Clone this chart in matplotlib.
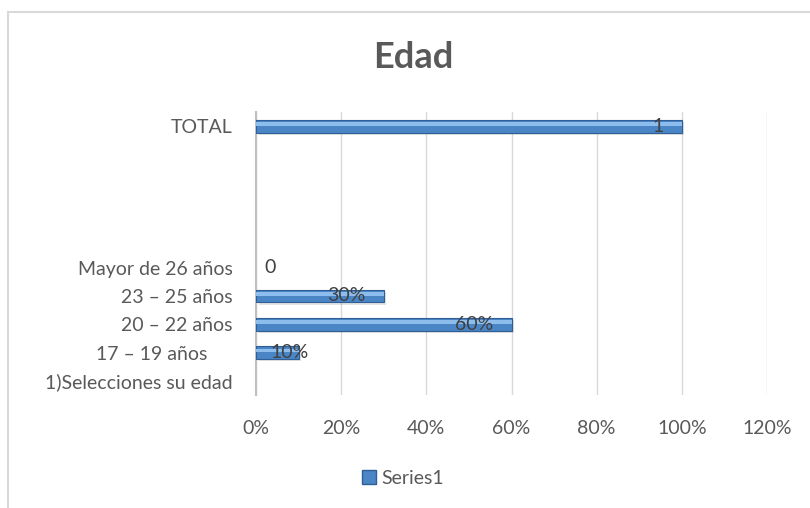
import matplotlib.pyplot as plt
from matplotlib.patches import Rectangle

categories = ["1)Selecciones su edad", "17 – 19 años     ", "20 – 22 años", "23 – 25 años",
              "Mayor de 26 años", "", "", "", "", "TOTAL"]
values = [None, 0.10, 0.60, 0.30, 0.0, None, None, None, None, 1.0]
labels = ["", "10%", "60%", "30%", "0", "", "", "", "", "1"]
xticks = [0, 0.2, 0.4, 0.6, 0.8, 1.0, 1.2]
xtick_labels = ["0%", "20%", "40%", "60%", "80%", "100%", "120%"]

plt.rcParams['font.family'] = ['Lato', 'DejaVu Sans']
text_col = "#595959"

fig = plt.figure(figsize=(8.1, 5.08), dpi=100)
fig.patches.append(Rectangle((8 / 810, -0.05), 1.1, 1 - 12 / 508 + 0.05, transform=fig.transFigure,
                             facecolor="none", edgecolor="#d9d9d9", linewidth=1.5))
ax = fig.add_axes([256 / 810, 1 - 395 / 508, 511 / 810, 283 / 508])

ypos = list(range(len(categories)))
bar_y = [y for y, v in zip(ypos, values) if v is not None and v > 0]
bar_w = [v for v in values if v is not None and v > 0]

# shadow, body, highlight
ax.barh([y - 0.08 for y in bar_y], bar_w, height=0.45, left=0.006, color="#808080", alpha=0.22, zorder=2)
ax.barh(bar_y, bar_w, height=0.45, color="#4a85c6", edgecolor="#2f5f96", linewidth=0.8, zorder=3)
ax.barh([y + 0.07 for y in bar_y], bar_w, height=0.13, color="#8dbdec", linewidth=0, zorder=4)

for y, v, lab in zip(ypos, values, labels):
    if v is None:
        continue
    if v >= 0.25:
        ax.annotate(lab, (v, y), xytext=(-13, 0), textcoords="offset points",
                    ha="right", va="center", fontsize=14, color="#404040", zorder=5)
    elif v > 0:
        ax.annotate(lab, (v, y), xytext=(-20, 0), textcoords="offset points",
                    ha="left", va="center", fontsize=14, color="#404040", zorder=5)
    else:
        ax.annotate(lab, (v, y), xytext=(6, 0), textcoords="offset points",
                    ha="left", va="center", fontsize=14, color="#404040", zorder=5)

ax.set_xlim(0, 1.2)
ax.set_ylim(-0.5, len(categories) - 0.5)
ax.set_xticks(xticks)
ax.set_xticklabels(xtick_labels, fontsize=14, color=text_col)
ax.set_yticks(ypos)
ax.set_yticklabels(categories, fontsize=14, color=text_col)
ax.tick_params(axis="x", length=0, pad=18)
ax.tick_params(axis="y", length=0, pad=17)
ax.grid(axis="x", color="#d9d9d9", linewidth=1)
ax.set_axisbelow(True)
for s in ["top", "right", "bottom"]:
    ax.spines[s].set_visible(False)
ax.spines["left"].set_color("#bfbfbf")
ax.spines["left"].set_linewidth(1.5)

fig.text(413 / 810, 1 - 57 / 508, "Edad", ha="center", va="center", fontsize=26,
         fontweight="bold", color="#595959")

handle = Rectangle((0, 0), 1, 1, facecolor="#4a85c6", edgecolor="#2f5f96")
fig.legend([handle], ["Series1"], loc="center", bbox_to_anchor=(403 / 810, 1 - 478 / 508),
           frameon=False, fontsize=14, handlelength=0.7, handleheight=0.7, handletextpad=0.3,
           labelcolor=text_col)

fig.savefig("out.png", dpi=100)
